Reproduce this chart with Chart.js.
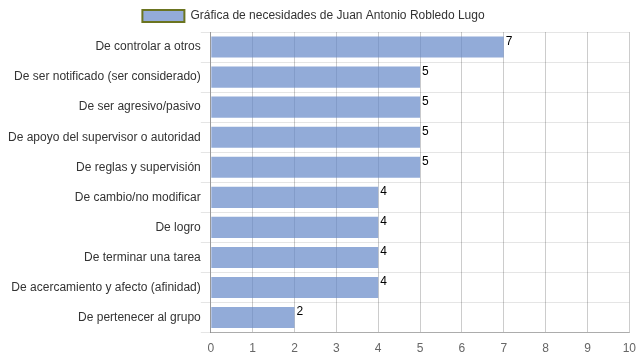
<!DOCTYPE html>
<html><head><meta charset="utf-8">
<script src="https://cdn.jsdelivr.net/npm/chart.js@4/dist/chart.umd.min.js"></script>
<style>html,body{margin:0;padding:0;background:#fff}#w{width:639px;height:360px}</style>
</head><body><div id="w"><canvas id="c"></canvas></div>
<script>
const categories = ["De controlar a otros","De ser notificado (ser considerado)","De ser agresivo/pasivo","De apoyo del supervisor o autoridad","De reglas y supervisión","De cambio/no modificar","De logro","De terminar una tarea","De acercamiento y afecto (afinidad)","De pertenecer al grupo"];
const values = [7,5,5,5,5,4,4,4,4,2];
const seriesName = "Gráfica de necesidades de Juan Antonio Robledo Lugo";
const xTicks = [0,1,2,3,4,5,6,7,8,9,10];

const labelPlugin = {
  id:'vals',
  afterLayout(chart){
    if (chart.legend) { chart.legend.left -= 9; chart.legend.right -= 9; }
  },
  afterDatasetsDraw(chart){
    const ctx = chart.ctx;
    const meta = chart.getDatasetMeta(0);
    ctx.save();
    ctx.font = '12px "Liberation Sans", Arial, sans-serif';
    ctx.fillStyle = '#000';
    ctx.textAlign = 'left';
    ctx.textBaseline = 'top';
    meta.data.forEach((el,i)=>{
      ctx.fillText(String(values[i]), el.x + 2, el.y - el.height/2 - 1);
    });
    ctx.restore();
  }
};

Chart.defaults.font.family = '"Liberation Sans", Arial, sans-serif';
Chart.defaults.font.size = 12;
new Chart(document.getElementById('c'), {
  type:'bar',
  data:{labels:categories, datasets:[{label:seriesName, data:values,
    backgroundColor:'rgba(100,135,200,0.7)', borderWidth:0,
    barPercentage:0.9, categoryPercentage:0.78}]},
  options:{
    indexAxis:'y', responsive:true, maintainAspectRatio:false, animation:false,
    layout:{padding:{left:8,right:2,top:1,bottom:1}},
    plugins:{
      legend:{display:true, labels:{boxWidth:42, boxHeight:12, color:'#333', padding:9, font:{size:12},
        generateLabels(chart){return [{text:seriesName, fillStyle:'rgba(147,171,217,1)', strokeStyle:'#6b7420', lineWidth:2, fontColor:'#333', datasetIndex:0}];}}},
      tooltip:{enabled:false}
    },
    scales:{
      x:{min:0,max:10, afterBuildTicks(s){s.ticks = xTicks.map(v=>({value:v}));},
        ticks:{color:'#666', padding:3}, grid:{color:'rgba(0,0,0,0.2)', drawTicks:true, tickLength:6, tickColor:'rgba(0,0,0,0)'},
        border:{color:'rgba(0,0,0,0.25)'}},
      y:{ticks:{color:'#333', padding:0}, grid:{color:'rgba(0,0,0,0.1)', tickLength:10, offset:true},
        border:{color:'rgba(0,0,0,0.25)'}}
    }
  },
  plugins:[labelPlugin]
});
</script></body></html>
